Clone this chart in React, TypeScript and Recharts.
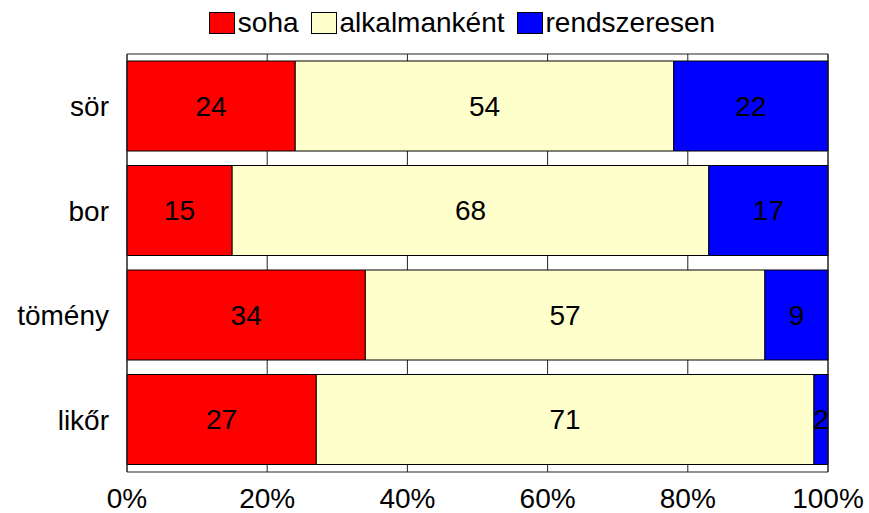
import { BarChart, Bar, XAxis, YAxis, CartesianGrid, LabelList } from 'recharts';

const categories = ['sör', 'bor', 'tömény', 'likőr'];
const soha = [24, 15, 34, 27];
const alkalmankent = [54, 68, 57, 71];
const rendszeresen = [22, 17, 9, 2];
const xTicks = [0, 20, 40, 60, 80, 100];

const series = [
  { key: 'soha', name: 'soha', color: '#FF0000' },
  { key: 'alkalmankent', name: 'alkalmanként', color: '#FFFFCC' },
  { key: 'rendszeresen', name: 'rendszeresen', color: '#0000FF' },
];

const data = categories.map((name, i) => ({
  name,
  soha: soha[i],
  alkalmankent: alkalmankent[i],
  rendszeresen: rendszeresen[i],
}));

const font = '"Liberation Sans", Arial, sans-serif';
const frame = '#222';

function TopLegend() {
  return (
    <div
      style={{
        position: 'absolute',
        top: 9,
        left: 127,
        width: 670,
        height: 28,
        display: 'flex',
        justifyContent: 'center',
        alignItems: 'center',
        gap: 12,
        fontFamily: font,
        fontSize: 28,
        color: '#000',
      }}
    >
      {series.map((s) => (
        <div key={s.key} style={{ display: 'flex', alignItems: 'center' }}>
          <span
            style={{
              display: 'inline-block',
              width: 24,
              height: 20,
              background: s.color,
              border: '1px solid #000',
              marginRight: 3,
            }}
          />
          <span style={{ lineHeight: '28px' }}>{s.name}</span>
        </div>
      ))}
    </div>
  );
}

export default function App() {
  return (
    <div style={{ position: 'absolute', left: 0, top: 0, width: 869, height: 513, background: '#fff' }}>
      <TopLegend />
      <BarChart
        width={869}
        height={513}
        data={data}
        layout="vertical"
        margin={{ top: 53, right: 40, bottom: 0, left: 0 }}
        style={{ fontFamily: font }}
      >
        <CartesianGrid horizontal={false} vertical stroke={frame} strokeWidth={1} />
        <XAxis
          type="number"
          domain={[0, 100]}
          ticks={xTicks}
          tickFormatter={(v) => `${v}%`}
          height={41}
          axisLine={{ stroke: frame }}
          tickLine={false}
          tickMargin={10}
          tick={{ fontSize: 28, fill: '#000' }}
          interval={0}
        />
        <XAxis
          xAxisId="top"
          orientation="top"
          type="number"
          domain={[0, 100]}
          ticks={xTicks}
          height={1}
          axisLine={{ stroke: frame }}
          tick={false}
          tickLine={false}
        />
        <YAxis
          type="category"
          dataKey="name"
          width={127}
          axisLine={{ stroke: frame }}
          tickLine={false}
          tickSize={6}
          tickMargin={12}
          tick={{ fontSize: 28, fill: '#000' }}
        />
        <YAxis
          yAxisId="right"
          orientation="right"
          type="category"
          dataKey="name"
          width={1}
          axisLine={{ stroke: frame }}
          tick={false}
          tickLine={false}
        />
        {series.map((s) => (
          <Bar
            key={s.key}
            dataKey={s.key}
            name={s.name}
            stackId="a"
            fill={s.color}
            stroke="#000"
            strokeWidth={1}
            barSize={90}
            isAnimationActive={false}
          >
            <LabelList dataKey={s.key} position="center" fill="#000" fontSize={28} fontFamily={font} />
          </Bar>
        ))}
      </BarChart>
    </div>
  );
}
